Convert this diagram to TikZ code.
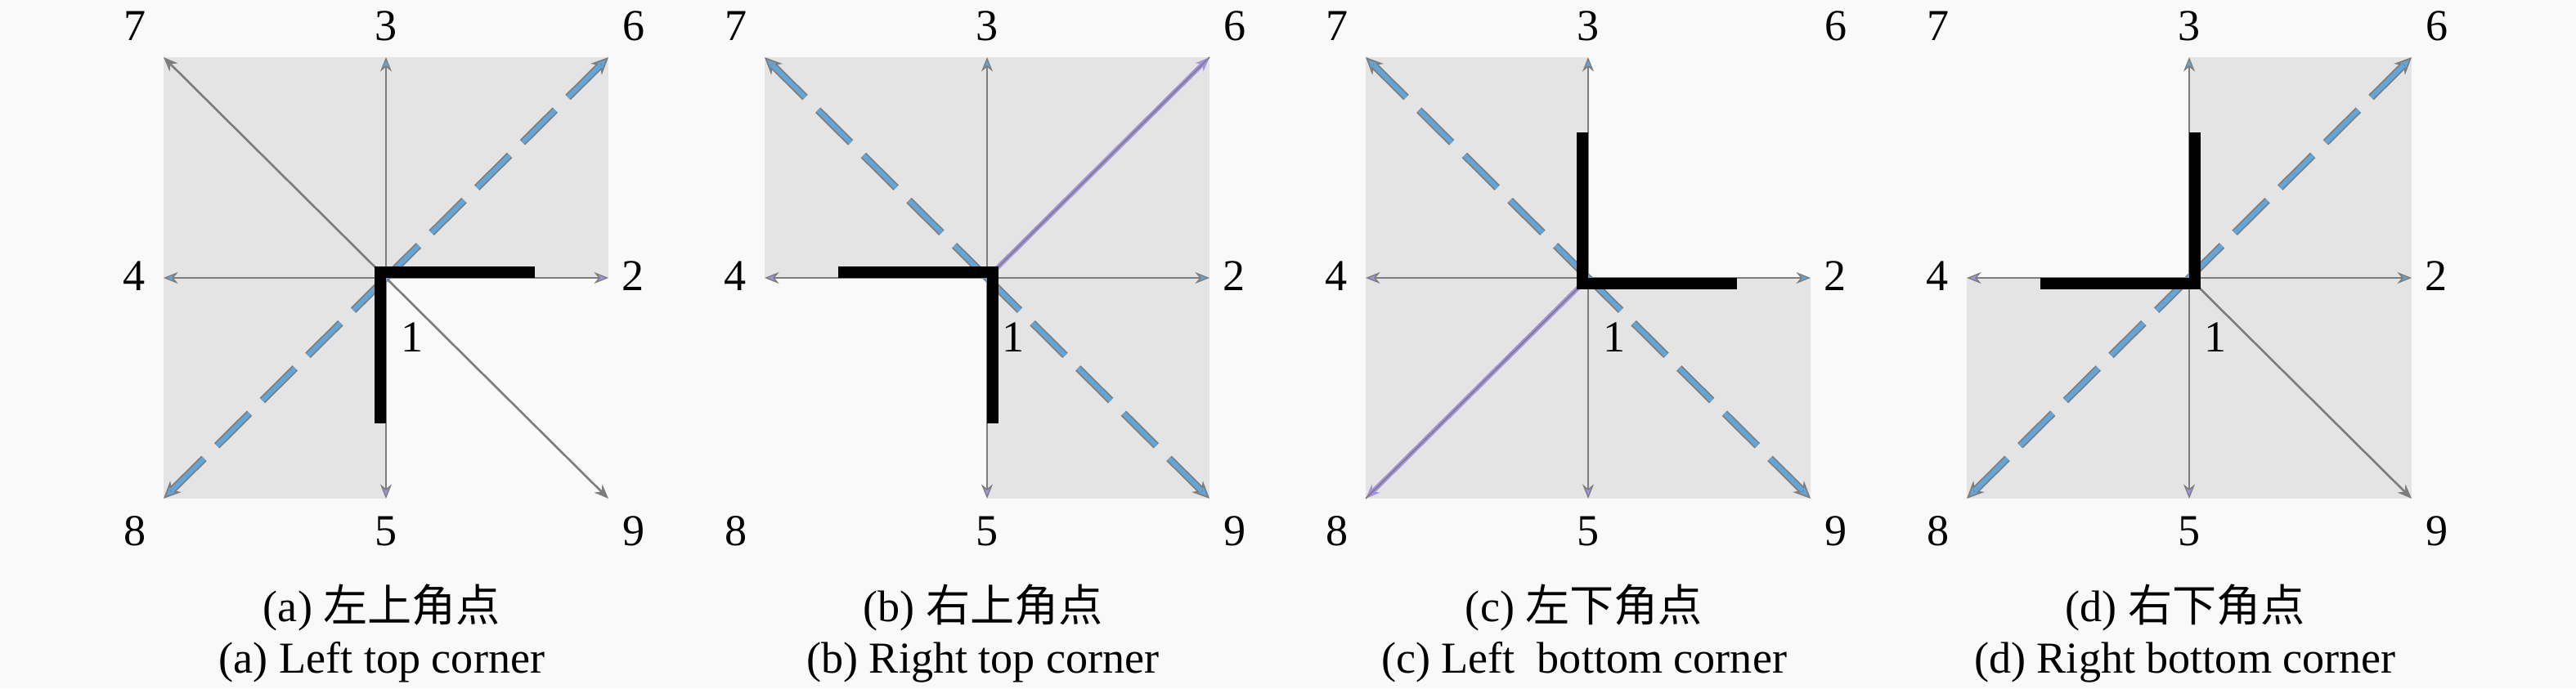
\documentclass[tikz,border=0pt]{standalone}
\usepackage{fontspec}
\setmainfont{Liberation Serif}
\newfontfamily\cjkfont{Noto Sans CJK SC}
\usepackage{tikz}
\usetikzlibrary{arrows.meta}
\definecolor{paper}{RGB}{249,249,249}
\definecolor{shade}{RGB}{228,228,228}
\definecolor{raygray}{RGB}{125,125,125}
\definecolor{skyblue}{RGB}{100,165,215}
\definecolor{lilac}{RGB}{165,145,225}
\tikzset{
  quad/.style={fill=shade},
  axis/.style={draw=raygray, line width=0.75pt, -{Stealth[length=5pt, width=4pt, line width=0.4pt, fill=#1]}},
  axis/.default={raygray},
  dashray/.style={draw=raygray, line width=2.6pt, dash pattern=on 16pt off 6.3pt,
    -{Stealth[length=6pt, width=5.5pt, line width=0.5pt, fill=skyblue]},
    postaction={draw=skyblue, line width=1.6pt, dash pattern=on 16pt off 6.3pt, -}},
  lilacray/.style={draw=lilac, line width=1.6pt,
    -{Stealth[length=5pt, width=4pt, line width=0.4pt, fill=lilac]},
    postaction={draw=raygray, line width=0.45pt, -}},
  bar/.style={draw=black, line width=0.14cm, line join=miter},
  num/.style={font=\fontsize{15.4}{18}\selectfont, inner sep=0pt},
  captext/.style={font=\fontsize{15.4}{18}\selectfont, inner sep=0pt, anchor=base}
}

\begin{document}
\begin{tikzpicture}
  \fill[paper] (0,0) rectangle (31.5,8.42);
  \useasboundingbox (0,0) rectangle (31.5,8.42);

  % ray end points of the four panels
  \foreach \p/\cx in {a/4.72, b/12.07, c/19.42, d/26.77}{
    \begin{scope}[shift={(\cx,5.02)}]
      \coordinate (\p-o) at (0,0);
      \coordinate (\p-2) at (2.72,0);
      \coordinate (\p-3) at (0,2.70);
      \coordinate (\p-4) at (-2.72,0);
      \coordinate (\p-5) at (0,-2.70);
      \coordinate (\p-6) at (2.72,2.70);
      \coordinate (\p-7) at (-2.72,2.70);
      \coordinate (\p-8) at (-2.72,-2.70);
      \coordinate (\p-9) at (2.72,-2.70);
    \end{scope}
  }

  % shaded quadrants
  \fill[quad] (a-o) rectangle (a-7);
  \fill[quad] (a-o) rectangle (a-6);
  \fill[quad] (a-o) rectangle (a-8);
  \fill[quad] (b-o) rectangle (b-7);
  \fill[quad] (b-o) rectangle (b-6);
  \fill[quad] (b-o) rectangle (b-9);
  \fill[quad] (c-o) rectangle (c-7);
  \fill[quad] (c-o) rectangle (c-8);
  \fill[quad] (c-o) rectangle (c-9);
  \fill[quad] (d-o) rectangle (d-6);
  \fill[quad] (d-o) rectangle (d-8);
  \fill[quad] (d-o) rectangle (d-9);

  % numbers and captions
  \foreach \p/\cx/\zh/\en in {a/4.72/左上角点/Left top corner, b/12.07/右上角点/Right top corner, c/19.42/左下角点/Left\ \ bottom corner, d/26.77/右下角点/Right bottom corner}{
    \begin{scope}[shift={(\cx,5.02)}]
      \node[num] (\p-n1) at (0.32,-0.73) {1};
      \node[num] (\p-n2) at (3.02,0.02) {2};
      \node[num] (\p-n3) at (0,3.08) {3};
      \node[num] (\p-n4) at (-3.08,0.02) {4};
      \node[num] (\p-n5) at (0,-3.10) {5};
      \node[num] (\p-n6) at (3.03,3.08) {6};
      \node[num] (\p-n7) at (-3.07,3.08) {7};
      \node[num] (\p-n8) at (-3.07,-3.10) {8};
      \node[num] (\p-n9) at (3.03,-3.10) {9};
      \node[captext] (\p-zh) at (-0.05,-4.20) {(\p) {\cjkfont\zh}};
      \node[captext] (\p-en) at (-0.05,-4.83) {(\p) \en};
    \end{scope}
  }

  % axis rays
  \foreach \p/\w/\e in {a/skyblue/lilac, b/lilac/skyblue, c/lilac/skyblue, d/lilac/skyblue}{
    \draw[axis=skyblue] (\p-o) -- (\p-3);
    \draw[axis=lilac] (\p-o) -- (\p-5);
    \draw[axis=\w] (\p-o) -- (\p-4);
    \draw[axis=\e] (\p-o) -- (\p-2);
  }

  % diagonal rays
  \draw[axis] (a-o) -- (a-7);
  \draw[axis] (a-o) -- (a-9);
  \draw[dashray] (a-o) -- (a-6);
  \draw[dashray] (a-o) -- (a-8);

  \draw[dashray] (b-o) -- (b-7);
  \draw[dashray] (b-o) -- (b-9);
  \draw[lilacray] (b-o) -- (b-6);

  \draw[dashray] (c-o) -- (c-7);
  \draw[dashray] (c-o) -- (c-9);
  \draw[lilacray] (c-o) -- (c-8);

  \draw[dashray] (d-o) -- (d-6);
  \draw[dashray] (d-o) -- (d-8);
  \draw[axis] (d-o) -- (d-9);

  % corner shapes
  \draw[bar] ([shift={(1.82,0.07)}]a-o) -- ([shift={(-0.07,0.07)}]a-o) -- ([shift={(-0.07,-1.78)}]a-o);
  \draw[bar] ([shift={(-1.82,0.07)}]b-o) -- ([shift={(0.07,0.07)}]b-o) -- ([shift={(0.07,-1.78)}]b-o);
  \draw[bar] ([shift={(-0.07,1.78)}]c-o) -- ([shift={(-0.07,-0.07)}]c-o) -- ([shift={(1.82,-0.07)}]c-o);
  \draw[bar] ([shift={(0.07,1.78)}]d-o) -- ([shift={(0.07,-0.07)}]d-o) -- ([shift={(-1.82,-0.07)}]d-o);
\end{tikzpicture}
\end{document}
